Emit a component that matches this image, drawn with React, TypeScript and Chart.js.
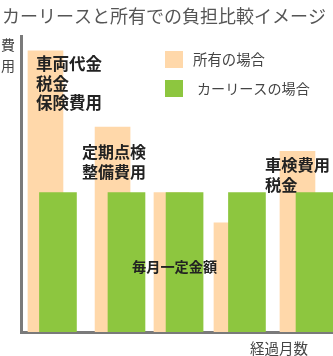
import React, { useEffect, useRef } from "react";
import { Chart, registerables } from "chart.js";

Chart.register(...registerables);

const titleText = "カーリースと所有での負担比較イメージ";
const seriesNames = ["所有の場合", "カーリースの場合"];
const yAxisLabel = ["費", "用"];
const xAxisLabel = "経過月数";

// positions along the elapsed-month axis (illustrative)
const ownedMonths = [2.04, 7.63, 12.54, 17.54, 23.04];
const leaseMonths = [3.08, 8.79, 13.63, 18.83, 24.46];
// cost levels (illustrative, 0-100)
const ownedCost = [95, 69.2, 47.1, 36.9, 61];
const leaseCost = [47.1, 47.1, 47.1, 47.1, 47.1];

const noteLines1 = ["車両代金", "税金", "保険費用"];
const noteLines2 = ["定期点検", "整備費用"];
const noteLines3 = ["車検費用", "税金"];
const noteLease = "毎月一定金額";

const PEACH = "#ffd8aa";
const GREEN = "#8dc63f";
const FONT = "'Noto Sans CJK JP', 'Noto Sans', sans-serif";

const textPlugin = {
  id: "texts",
  afterDraw(chart: any) {
    const ctx = chart.ctx;
    ctx.save();
    ctx.textBaseline = "middle";
    ctx.textAlign = "left";
    // title
    ctx.fillStyle = "#555";
    ctx.font = `18px ${FONT}`;
    ctx.fillText(titleText, 2, 16);
    // y label stacked
    ctx.fillStyle = "#444";
    ctx.font = `14px ${FONT}`;
    ctx.textAlign = "center";
    ctx.fillText(yAxisLabel[0], 8, 45);
    ctx.fillText(yAxisLabel[1], 8, 66);
    // x label
    ctx.font = `14.5px ${FONT}`;
    ctx.fillText(xAxisLabel, 279, 348);
    // legend
    ctx.textAlign = "left";
    ctx.fillStyle = PEACH;
    ctx.fillRect(165, 51, 18, 17);
    ctx.fillStyle = GREEN;
    ctx.fillRect(165, 80, 18, 17);
    ctx.fillStyle = "#444";
    ctx.font = `14.4px ${FONT}`;
    ctx.fillText(seriesNames[0], 193, 60);
    ctx.font = `14.1px ${FONT}`;
    ctx.fillText(seriesNames[1], 197, 89);
    // annotations
    ctx.fillStyle = "#222";
    ctx.font = `bold 16.5px ${FONT}`;
    noteLines1.forEach((t, i) => ctx.fillText(t, 36, 64 + i * 19.5));
    ctx.font = `bold 16px ${FONT}`;
    noteLines2.forEach((t, i) => ctx.fillText(t, 82, 152 + i * 20));
    ctx.font = `bold 16.3px ${FONT}`;
    noteLines3.forEach((t, i) => ctx.fillText(t, 265, 165 + i * 20));
    ctx.font = `bold 14.2px ${FONT}`;
    ctx.fillText(noteLease, 132, 267);
    ctx.restore();
  },
};

export default function App() {
  const ref = useRef<HTMLCanvasElement>(null);
  useEffect(() => {
    if (!ref.current) return;
    const chart = new Chart(ref.current, {
      type: "bar",
      data: {
        datasets: [
          {
            label: seriesNames[0],
            data: ownedMonths.map((m, i) => ({ x: m, y: ownedCost[i] })),
            backgroundColor: PEACH,
            barThickness: 35,
            grouped: false,
            order: 2,
          } as any,
          {
            label: seriesNames[1],
            data: leaseMonths.map((m, i) => ({ x: m, y: leaseCost[i] })),
            backgroundColor: GREEN,
            barThickness: 37,
            grouped: false,
            order: 1,
          } as any,
        ],
      },
      options: {
        animation: false,
        responsive: false,
        maintainAspectRatio: false,
        layout: { padding: { left: 21, top: 36, right: 0, bottom: 24 } },
        plugins: { legend: { display: false }, tooltip: { enabled: false }, title: { display: false } },
        scales: {
          x: {
            type: "linear",
            min: 0,
            max: 26,
            offset: false,
            ticks: { display: false },
            grid: { display: false, drawTicks: false },
            border: { display: true, color: "#7a7a7a", width: 3 },
          },
          y: {
            min: 0,
            max: 100,
            ticks: { display: false },
            grid: { display: false, drawTicks: false },
            border: { display: true, color: "#7a7a7a", width: 3 },
          },
        },
      },
      plugins: [textPlugin],
    });
    return () => chart.destroy();
  }, []);
  return (
    <div style={{ position: "fixed", left: 0, top: 0, width: 333, height: 356, background: "#fff" }}>
      <canvas ref={ref} width={333} height={356} style={{ width: 333, height: 356 }} />
    </div>
  );
}
